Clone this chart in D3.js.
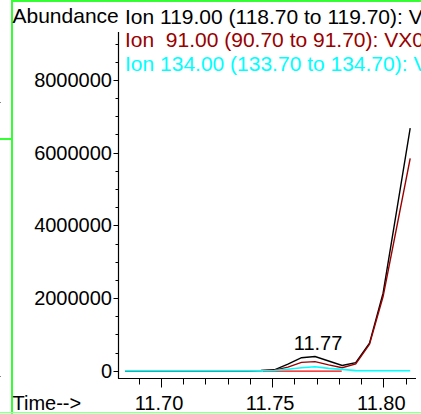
<!DOCTYPE html>
<html><head><meta charset="utf-8">
<script src="https://cdn.jsdelivr.net/npm/d3@7"></script>
<style>
html,body{margin:0;padding:0;background:#fff;overflow:hidden;}
svg{display:block;font-family:"Liberation Sans",Arial,sans-serif;}
</style></head>
<body>
<svg id="c" width="421" height="414"></svg>
<script>
// ---- data ----
const scanTimes = [11.6838, 11.6899, 11.6960, 11.7021, 11.7082, 11.7143, 11.7205, 11.7266,
  11.7327, 11.7388, 11.7449, 11.7510, 11.7571, 11.7632, 11.7693, 11.7754, 11.7815,
  11.7876, 11.7938, 11.7999, 11.8060, 11.8121];
const ion119 = [0,0,0,0,0,0,0,0,0,0,5000,25000,180000,358000,391000,267000,143000,220000,755000,2132000,4400000,6678000];
const ion91  = [0,0,0,0,0,0,0,0,0,0,3000,15000,100000,230000,250000,160000,83000,185000,727000,2040000,3940000,5840000];
const ion134 = [0,0,0,0,0,0,0,0,0,0,0,5000,40000,83000,110000,63000,37000,3000,0,0,0,0];
const baselineTimes = [11.7459, 11.7813];
const baselineValues = [-12000, -12000];
const peakLabel = {time: 11.7693, value: 391000, text: "11.77"};
const legendLabels = [
  "Ion 119.00 (118.70 to 119.70): VX01.D\\data.ms",
  "Ion  91.00 (90.70 to 91.70): VX01.D\\data.ms",
  "Ion 134.00 (133.70 to 134.70): VX01.D\\data.ms"
];
const seriesColors = ["#000000", "#990000", "#00ffff"];
const yTickValues = [0, 2000000, 4000000, 6000000, 8000000];
const xTickValues = [11.70, 11.75, 11.80];

// ---- drawing ----
const svg = d3.select("#c");
const x = d3.scaleLinear().domain([11.68066, 11.81471]).range([118, 416]);
const y = d3.scaleLinear().domain([-200900, 9320000]).range([378, 32]);

// frame decorations
svg.append("rect").attr("x",11).attr("y",0).attr("width",2).attr("height",414).attr("fill","#33ff33");
svg.append("rect").attr("x",11).attr("y",0).attr("width",410).attr("height",2).attr("fill","#33ff33");
svg.append("rect").attr("x",0).attr("y",138).attr("width",11).attr("height",2).attr("fill","#33ff33");
svg.append("rect").attr("x",0).attr("y",412).attr("width",421).attr("height",1.5).attr("fill","#99ff99");
svg.append("rect").attr("x",0).attr("y",102).attr("width",1).attr("height",1).attr("fill","#888");
svg.append("rect").attr("x",0).attr("y",376).attr("width",1).attr("height",1).attr("fill","#888");

// axes
const yMinor = d3.range(0, 9320000, 500000);
const gy = svg.append("g").attr("transform","translate(118.5,0)");
gy.append("line").attr("x1",0).attr("x2",0).attr("y1",32).attr("y2",378.5).attr("stroke","#000").attr("stroke-width",1.2);
gy.selectAll("line.mn").data(yMinor).join("line").attr("class","mn")
  .attr("x1",-3).attr("x2",0).attr("y1",d=>Math.round(y(d))+0.5).attr("y2",d=>Math.round(y(d))+0.5)
  .attr("stroke","#000").attr("stroke-width",1);
gy.selectAll("line.mj").data(yTickValues).join("line").attr("class","mj")
  .attr("x1",-5).attr("x2",0).attr("y1",d=>Math.round(y(d))+0.5).attr("y2",d=>Math.round(y(d))+0.5)
  .attr("stroke","#000").attr("stroke-width",1);
gy.selectAll("text").data(yTickValues).join("text")
  .attr("x",-6.5).attr("y",d=>y(d)+7).attr("text-anchor","end")
  .attr("font-size",20).attr("fill","#000").text(d=>d3.format("d")(d));

const xMinor = d3.range(11.69, 11.815, 0.01);
const gx = svg.append("g").attr("transform","translate(0,378.5)");
gx.append("line").attr("x1",118).attr("x2",416).attr("y1",0).attr("y2",0).attr("stroke","#000").attr("stroke-width",1.2);
gx.selectAll("line.mn").data(xMinor).join("line").attr("class","mn")
  .attr("x1",d=>Math.round(x(d))+0.5).attr("x2",d=>Math.round(x(d))+0.5).attr("y1",0).attr("y2",6)
  .attr("stroke","#000").attr("stroke-width",1);
gx.selectAll("line.mj").data(xTickValues).join("line").attr("class","mj")
  .attr("x1",d=>Math.round(x(d))+0.5).attr("x2",d=>Math.round(x(d))+0.5).attr("y1",0).attr("y2",9)
  .attr("stroke","#000").attr("stroke-width",1);
gx.selectAll("text").data(xTickValues).join("text")
  .attr("x",d=>x(d)-2).attr("y",31).attr("text-anchor","middle")
  .attr("font-size",20).attr("fill","#000").text(d=>d.toFixed(2));

svg.append("text").attr("x",12.5).attr("y",409.5).attr("font-size",20).attr("fill","#000").text("Time-->");
svg.append("text").attr("x",12.5).attr("y",23).attr("font-size",21).attr("fill","#000").text("Abundance");

// legend
svg.selectAll("text.leg").data(legendLabels).join("text").attr("class","leg")
  .attr("x",125).attr("y",(d,i)=>23.5+i*23.7).attr("font-size",21)
  .attr("fill",(d,i)=>seriesColors[i]).style("white-space","pre").attr("xml:space","preserve").text(d=>d);

// data lines
const line = d3.line().x(d=>x(d[0])).y(d=>y(d[1]));
const series = [ion119, ion91, ion134];
[0,1].forEach(i=>{
  svg.append("path").datum(scanTimes.map((t,k)=>[t, series[i][k]]))
    .attr("d",line).attr("fill","none").attr("stroke",seriesColors[i]).attr("stroke-width",1.4);
});
svg.append("path").datum(baselineTimes.map((t,k)=>[t, baselineValues[k]]))
  .attr("d",line).attr("fill","none").attr("stroke","#ff0000").attr("stroke-width",1.4);
svg.append("path").datum(scanTimes.map((t,k)=>[t, series[2][k]]))
  .attr("d",line).attr("fill","none").attr("stroke",seriesColors[2]).attr("stroke-width",1.6);

// peak label
svg.append("text").attr("x",x(peakLabel.time)+3).attr("y",y(peakLabel.value)-6.5)
  .attr("text-anchor","middle").attr("font-size",20).attr("fill","#000").text(peakLabel.text);
</script>
</body></html>
